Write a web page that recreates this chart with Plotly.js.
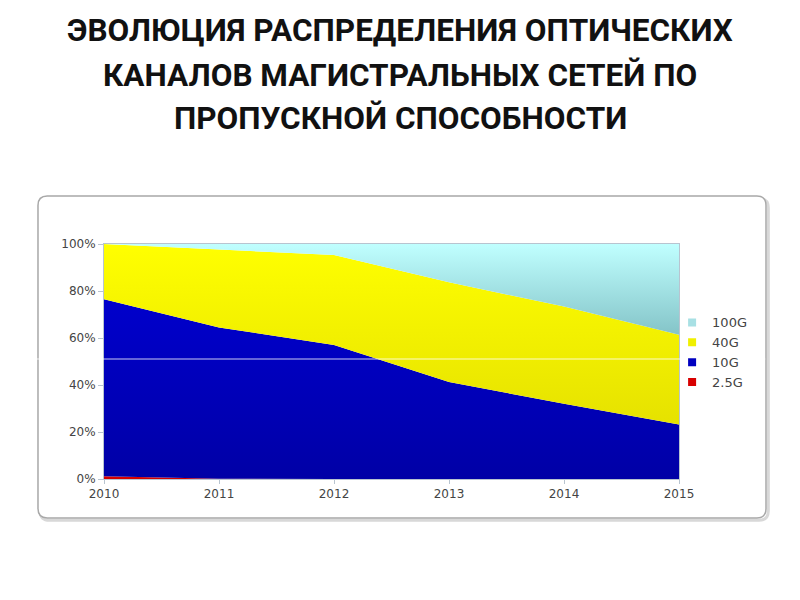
<!DOCTYPE html>
<html>
<head>
<meta charset="utf-8">
<script src="https://cdn.plot.ly/plotly-3.0.1.min.js"></script>
<style>
  body { margin: 0; background: #fff; }
  #chart { width: 800px; height: 600px; }
</style>
</head>
<body>
<div id="chart"></div>
<script>
// years and shares (%)
let years = [2010, 2011, 2012, 2013, 2014, 2015];
let share25G = [1.2, 0.1, 0, 0, 0, 0];
let share10G = [75.3, 64.4, 57, 41.3, 32, 23.2];
let share40G = [23.5, 33, 38.3, 42.4, 41.4, 38.2];
let share100G = [0, 2.5, 4.7, 16.3, 26.6, 38.6];

let yTicks = [0, 20, 40, 60, 80, 100];

let titleLines = [
    'ЭВОЛЮЦИЯ РАСПРЕДЕЛЕНИЯ ОПТИЧЕСКИХ',
    'КАНАЛОВ МАГИСТРАЛЬНЫХ СЕТЕЙ ПО',
    'ПРОПУСКНОЙ СПОСОБНОСТИ'
];

let seriesNames = ['2.5G', '10G', '40G', '100G'];
let seriesValues = [share25G, share10G, share40G, share100G];
let topColors = ['#e00000', '#0000cc', '#ffff00', '#c0ffff'];
let bottomColors = ['#d00000', '#0000a6', '#e6e200', '#84c4c8'];
let legendColors = ['#d80000', '#0000c0', '#f0f000', '#a8e0e4'];

let data = [];
seriesNames.forEach(function(name, i) {
    data.push({
        x: years,
        y: seriesValues[i],
        name: name,
        type: 'scatter',
        mode: 'lines',
        stackgroup: 'one',
        line: {width: 0, color: topColors[i]},
        fillcolor: topColors[i],
        fillgradient: {
            type: 'vertical',
            colorscale: [[0, bottomColors[i]], [1, topColors[i]]]
        },
        showlegend: false
    });
});
// small square legend keys, like the original
seriesNames.forEach(function(name, i) {
    data.push({
        x: [null],
        y: [null],
        name: name,
        type: 'scatter',
        mode: 'markers',
        marker: {symbol: 'square', size: 8, color: legendColors[i]},
        showlegend: true
    });
});

// title lines sit above the plot, placed in paper units
let titleY = [1.91, 1.719, 1.536];
let annotations = titleLines.map(function(t, i) {
    return {
        text: t,
        xref: 'paper', yref: 'paper',
        x: 0.5148, y: titleY[i],
        xanchor: 'center', yanchor: 'middle',
        showarrow: false,
        font: {family: 'Roboto', size: 31.5, color: '#111', weight: 'bold'}
    };
});

let fx0 = -0.1148, fx1 = 1.1513, fy0 = -0.166, fy1 = 1.204;
let rx = 0.016, ry = 0.04;
function roundRect(x0, x1, y0, y1) {
    return 'M ' + (x0 + rx) + ',' + y1 +
        ' L ' + (x1 - rx) + ',' + y1 +
        ' Q ' + x1 + ',' + y1 + ' ' + x1 + ',' + (y1 - ry) +
        ' L ' + x1 + ',' + (y0 + ry) +
        ' Q ' + x1 + ',' + y0 + ' ' + (x1 - rx) + ',' + y0 +
        ' L ' + (x0 + rx) + ',' + y0 +
        ' Q ' + x0 + ',' + y0 + ' ' + x0 + ',' + (y0 + ry) +
        ' L ' + x0 + ',' + (y1 - ry) +
        ' Q ' + x0 + ',' + y1 + ' ' + (x0 + rx) + ',' + y1 + ' Z';
}

let layout = {
    width: 800,
    height: 600,
    margin: {l: 104, r: 121, t: 244, b: 121},
    paper_bgcolor: '#ffffff',
    plot_bgcolor: 'rgba(0,0,0,0)',
    showlegend: true,
    legend: {
        x: 0.988, y: 0.73, xanchor: 'left', yanchor: 'top',
        traceorder: 'reversed',
        bgcolor: 'rgba(0,0,0,0)',
        font: {family: 'DejaVu Sans', size: 13, color: '#444'},
        itemwidth: 30,
        tracegroupgap: 0
    },
    xaxis: {
        range: [2010, 2015],
        tickvals: years,
        ticktext: years.map(String),
        showgrid: false,
        zeroline: false,
        showline: true,
        linecolor: '#b8c4d0',
        mirror: true,
        ticks: 'outside',
        ticklen: 4,
        tickcolor: '#b8c4d0',
        tickfont: {family: 'DejaVu Sans', size: 12, color: '#444'}
    },
    yaxis: {
        range: [0, 100],
        tickvals: yTicks,
        ticktext: yTicks.map(function(v) { return v + '%'; }),
        showgrid: false,
        zeroline: false,
        showline: true,
        linecolor: '#b8c4d0',
        mirror: true,
        ticks: 'outside',
        ticklen: 5,
        tickcolor: '#b8c4d0',
        tickfont: {family: 'DejaVu Sans', size: 12, color: '#444'}
    },
    annotations: annotations,
    shapes: [
        {
            // soft shadow of the frame
            type: 'path', xref: 'paper', yref: 'paper',
            path: roundRect(fx0 + 0.004, fx1 + 0.004, fy0 - 0.01, fy1 - 0.01),
            line: {color: '#d8d8d8', width: 3},
            layer: 'below'
        },
        {
            // outer frame around the chart
            type: 'path', xref: 'paper', yref: 'paper',
            path: roundRect(fx0, fx1, fy0, fy1),
            line: {color: '#a8a8a8', width: 1.5},
            fillcolor: '#ffffff',
            layer: 'below'
        },
        {
            // thin light streak across the picture
            type: 'line', xref: 'paper', yref: 'paper',
            x0: -0.18, x1: 1.15, y0: 0.5106, y1: 0.5106,
            line: {color: 'rgba(255,255,255,0.8)', width: 1}
        }
    ]
};

Plotly.newPlot('chart', data, layout, {displayModeBar: false, staticPlot: true});
</script>
</body>
</html>
